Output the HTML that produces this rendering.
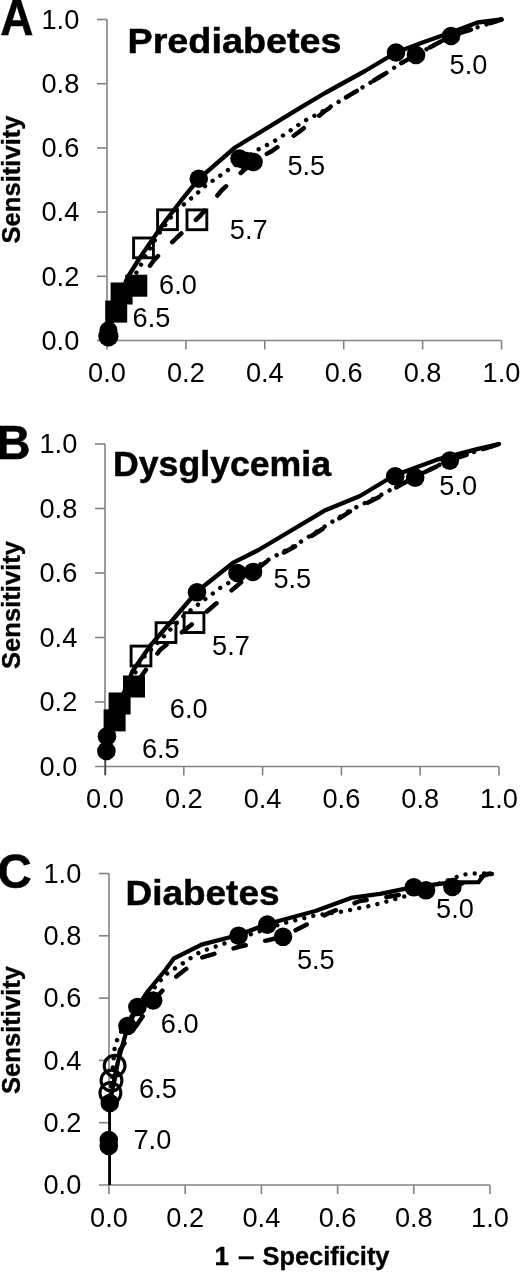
<!DOCTYPE html>
<html><head><meta charset="utf-8"><style>
html,body{margin:0;padding:0;background:#fff;}
svg{display:block;filter:grayscale(1);}
text{font-family:"Liberation Sans",sans-serif;fill:#000;}
.t{font-size:28.5px;}
.pl{font-size:47.5px;font-weight:bold;stroke:#000;stroke-width:0.5;}
.ti{font-size:35px;font-weight:bold;stroke:#000;stroke-width:0.5;}
.yl{font-size:26.5px;font-weight:bold;stroke:#000;stroke-width:0.35;}
.ln{fill:none;stroke:#000;stroke-width:4.3;stroke-linejoin:round;stroke-linecap:round;}
.dot{stroke-dasharray:0.01 9.3;stroke-width:4.4;}
.dash{stroke-dasharray:12.6 19.9;stroke-width:4.5;}
</style></head><body>
<svg width="520" height="1273" viewBox="0 0 520 1273">
<rect width="520" height="1273" fill="#fff"/>
<g stroke="#828282" stroke-width="1.6" fill="none"><path d="M107 19.5 V349.5"/><path d="M97 340.5 H501.5"/><path d="M185.9 340.5 v9"/><path d="M97 276.3 H107"/><path d="M264.8 340.5 v9"/><path d="M97 212.1 H107"/><path d="M343.7 340.5 v9"/><path d="M97 147.9 H107"/><path d="M422.6 340.5 v9"/><path d="M97 83.7 H107"/><path d="M501.5 340.5 v9"/><path d="M97 19.5 H107"/></g>
<text x="79.3" y="349.7" text-anchor="end" class="t" textLength="37.8" lengthAdjust="spacingAndGlyphs">0.0</text>
<text x="107.0" y="382.0" text-anchor="middle" class="t" textLength="37.8" lengthAdjust="spacingAndGlyphs">0.0</text>
<text x="79.3" y="285.5" text-anchor="end" class="t" textLength="37.8" lengthAdjust="spacingAndGlyphs">0.2</text>
<text x="185.9" y="382.0" text-anchor="middle" class="t" textLength="37.8" lengthAdjust="spacingAndGlyphs">0.2</text>
<text x="79.3" y="221.3" text-anchor="end" class="t" textLength="37.8" lengthAdjust="spacingAndGlyphs">0.4</text>
<text x="264.8" y="382.0" text-anchor="middle" class="t" textLength="37.8" lengthAdjust="spacingAndGlyphs">0.4</text>
<text x="79.3" y="157.1" text-anchor="end" class="t" textLength="37.8" lengthAdjust="spacingAndGlyphs">0.6</text>
<text x="343.7" y="382.0" text-anchor="middle" class="t" textLength="37.8" lengthAdjust="spacingAndGlyphs">0.6</text>
<text x="79.3" y="92.9" text-anchor="end" class="t" textLength="37.8" lengthAdjust="spacingAndGlyphs">0.8</text>
<text x="422.6" y="382.0" text-anchor="middle" class="t" textLength="37.8" lengthAdjust="spacingAndGlyphs">0.8</text>
<text x="79.3" y="28.7" text-anchor="end" class="t" textLength="37.8" lengthAdjust="spacingAndGlyphs">1.0</text>
<text x="501.5" y="382.0" text-anchor="middle" class="t" textLength="37.8" lengthAdjust="spacingAndGlyphs">1.0</text>
<text x="0.3" y="34.5" class="pl" style="font-size:50px" textLength="33.2" lengthAdjust="spacingAndGlyphs">A</text>
<text x="127.5" y="53.3" class="ti" textLength="214" lengthAdjust="spacingAndGlyphs">Prediabetes</text>
<text transform="translate(19.7,243.5) rotate(-90)" class="yl" textLength="128" lengthAdjust="spacingAndGlyphs">Sensitivity</text>
<polyline points="107.0,340.5 116.0,311.0 136.0,286.0 154.0,260.0 177.0,237.5 200.0,216.0 222.0,190.0 244.0,170.0 254.0,161.0 272.0,151.0 299.0,132.0 325.0,111.0 337.5,102.5 385.0,73.8 400.0,63.8 416.0,55.0 451.0,36.0 501.5,19.5" class="ln dash" stroke-dashoffset="10"/>
<polyline points="107.0,340.5 112.0,320.0 122.0,296.0 138.8,268.8 147.5,252.5 158.0,235.0 168.8,220.0 174.5,212.5 187.5,201.2 194.5,195.8 206.2,185.0 219.5,176.2 226.2,171.2 258.0,149.5 273.0,142.0 287.5,132.5 303.8,121.2 320.0,113.0 337.5,102.5 385.0,73.8 400.0,63.8 416.0,55.0 451.0,36.0 501.5,19.5" class="ln dot" stroke-dashoffset="0"/>
<polyline points="107.0,340.5 110.0,320.0 116.0,305.0 127.5,277.5 140.0,257.5 162.5,225.0 182.5,198.8 198.8,178.8 235.0,147.5 300.0,107.8 325.0,93.0 365.0,71.0 396.0,52.5 422.5,42.5 451.0,32.5 477.5,22.5 501.5,19.5" class="ln"/>
<circle cx="108.4" cy="330.3" r="9.0" fill="#000"/>
<circle cx="108.4" cy="336.3" r="10.1" fill="#000"/>
<rect x="105.2" y="300.6" width="22" height="22" fill="#000"/>
<rect x="110.6" y="282.5" width="22" height="22" fill="#000"/>
<rect x="125.30000000000001" y="274.7" width="22" height="22" fill="#000"/>
<rect x="133.6" y="238.0" width="19.8" height="19.8" fill="none" stroke="#000" stroke-width="2.9"/>
<rect x="157.6" y="209.85" width="19.8" height="19.8" fill="none" stroke="#000" stroke-width="2.9"/>
<rect x="187.0" y="209.9" width="19.8" height="19.8" fill="none" stroke="#000" stroke-width="2.9"/>
<circle cx="198.75" cy="178.75" r="9.3" fill="#000"/>
<circle cx="239.5" cy="158.5" r="9.3" fill="#000"/>
<circle cx="246" cy="161" r="9.3" fill="#000"/>
<circle cx="253.5" cy="162" r="9.3" fill="#000"/>
<circle cx="396" cy="52.5" r="9.3" fill="#000"/>
<circle cx="416" cy="55" r="9.3" fill="#000"/>
<circle cx="451" cy="36" r="9.3" fill="#000"/>
<text x="178" y="294.1" text-anchor="middle" class="t" textLength="37.8" lengthAdjust="spacingAndGlyphs">6.0</text>
<text x="151.5" y="327.2" text-anchor="middle" class="t" textLength="37.8" lengthAdjust="spacingAndGlyphs">6.5</text>
<text x="248.7" y="239.2" text-anchor="middle" class="t" textLength="37.8" lengthAdjust="spacingAndGlyphs">5.7</text>
<text x="306.3" y="175.0" text-anchor="middle" class="t" textLength="37.8" lengthAdjust="spacingAndGlyphs">5.5</text>
<text x="468.5" y="74.1" text-anchor="middle" class="t" textLength="37.8" lengthAdjust="spacingAndGlyphs">5.0</text>
<g stroke="#828282" stroke-width="1.6" fill="none"><path d="M105 444 V775.5"/><path d="M95 766.5 H499"/><path d="M183.8 766.5 v9"/><path d="M95 702.0 H105"/><path d="M262.6 766.5 v9"/><path d="M95 637.5 H105"/><path d="M341.4 766.5 v9"/><path d="M95 573.0 H105"/><path d="M420.2 766.5 v9"/><path d="M95 508.5 H105"/><path d="M499.0 766.5 v9"/><path d="M95 444.0 H105"/></g>
<text x="77.3" y="775.7" text-anchor="end" class="t" textLength="37.8" lengthAdjust="spacingAndGlyphs">0.0</text>
<text x="105.0" y="808.0" text-anchor="middle" class="t" textLength="37.8" lengthAdjust="spacingAndGlyphs">0.0</text>
<text x="77.3" y="711.2" text-anchor="end" class="t" textLength="37.8" lengthAdjust="spacingAndGlyphs">0.2</text>
<text x="183.8" y="808.0" text-anchor="middle" class="t" textLength="37.8" lengthAdjust="spacingAndGlyphs">0.2</text>
<text x="77.3" y="646.7" text-anchor="end" class="t" textLength="37.8" lengthAdjust="spacingAndGlyphs">0.4</text>
<text x="262.6" y="808.0" text-anchor="middle" class="t" textLength="37.8" lengthAdjust="spacingAndGlyphs">0.4</text>
<text x="77.3" y="582.2" text-anchor="end" class="t" textLength="37.8" lengthAdjust="spacingAndGlyphs">0.6</text>
<text x="341.4" y="808.0" text-anchor="middle" class="t" textLength="37.8" lengthAdjust="spacingAndGlyphs">0.6</text>
<text x="77.3" y="517.7" text-anchor="end" class="t" textLength="37.8" lengthAdjust="spacingAndGlyphs">0.8</text>
<text x="420.2" y="808.0" text-anchor="middle" class="t" textLength="37.8" lengthAdjust="spacingAndGlyphs">0.8</text>
<text x="77.3" y="453.2" text-anchor="end" class="t" textLength="37.8" lengthAdjust="spacingAndGlyphs">1.0</text>
<text x="499.0" y="808.0" text-anchor="middle" class="t" textLength="37.8" lengthAdjust="spacingAndGlyphs">1.0</text>
<text x="-3.8" y="458.8" class="pl">B</text>
<text x="113" y="476.3" class="ti" textLength="218" lengthAdjust="spacingAndGlyphs">Dysglycemia</text>
<text transform="translate(19.7,669) rotate(-90)" class="yl" textLength="128" lengthAdjust="spacingAndGlyphs">Sensitivity</text>
<path d="M105.4 760 V775" stroke="#444" stroke-width="1.6" fill="none"/>
<polyline points="105.5,750.0 108.0,735.0 120.0,703.0 134.0,686.5 160.0,650.0 194.0,622.6 253.0,572.0 266.0,562.0 295.0,546.5 322.5,529.0 350.0,511.5 380.0,496.5 414.8,477.0 449.2,460.5 499.0,444.0" class="ln dash" stroke-dashoffset="-14"/>
<polyline points="105.5,750.0 106.0,740.0 117.0,712.0 125.0,695.0 141.0,660.0 166.0,634.0 185.0,614.5 220.0,588.0 266.0,561.0 295.0,545.5 322.5,528.0 350.0,510.5 380.0,495.5 414.8,477.0 449.2,460.0 499.0,444.0" class="ln dot" stroke-dashoffset="0"/>
<polyline points="105.5,750.0 106.2,735.5 114.6,720.4 119.6,703.5 132.3,671.5 150.0,646.0 173.0,619.5 197.0,591.5 233.8,562.3 258.5,550.0 324.6,510.6 360.0,496.0 394.0,475.5 437.0,459.7 477.0,449.2 499.0,444.0" class="ln"/>
<circle cx="106.4" cy="751" r="9.3" fill="#000"/>
<circle cx="107" cy="736.3" r="9.3" fill="#000"/>
<rect x="103.6" y="709.4" width="22" height="22" fill="#000"/>
<rect x="108.6" y="692.5" width="22" height="22" fill="#000"/>
<rect x="123.0" y="675.5" width="22" height="22" fill="#000"/>
<rect x="131.1" y="646.1" width="19.8" height="19.8" fill="none" stroke="#000" stroke-width="2.9"/>
<rect x="156.1" y="622.7" width="19.8" height="19.8" fill="none" stroke="#000" stroke-width="2.9"/>
<rect x="184.1" y="612.7" width="19.8" height="19.8" fill="none" stroke="#000" stroke-width="2.9"/>
<circle cx="197" cy="592.3" r="9.3" fill="#000"/>
<circle cx="237.5" cy="573" r="9.3" fill="#000"/>
<circle cx="253" cy="572" r="9.3" fill="#000"/>
<circle cx="395.2" cy="476.3" r="9.3" fill="#000"/>
<circle cx="415.2" cy="477.6" r="9.3" fill="#000"/>
<circle cx="449.8" cy="460.6" r="9.3" fill="#000"/>
<text x="188.75" y="718.0" text-anchor="middle" class="t" textLength="37.8" lengthAdjust="spacingAndGlyphs">6.0</text>
<text x="160.8" y="757.5" text-anchor="middle" class="t" textLength="37.8" lengthAdjust="spacingAndGlyphs">6.5</text>
<text x="231" y="654.7" text-anchor="middle" class="t" textLength="37.8" lengthAdjust="spacingAndGlyphs">5.7</text>
<text x="292.3" y="587.9" text-anchor="middle" class="t" textLength="37.8" lengthAdjust="spacingAndGlyphs">5.5</text>
<text x="458.2" y="494.5" text-anchor="middle" class="t" textLength="37.8" lengthAdjust="spacingAndGlyphs">5.0</text>
<g stroke="#828282" stroke-width="1.6" fill="none"><path d="M109 873.5 V1194"/><path d="M99 1185 H490"/><path d="M185.2 1185 v9"/><path d="M99 1122.7 H109"/><path d="M261.4 1185 v9"/><path d="M99 1060.4 H109"/><path d="M337.6 1185 v9"/><path d="M99 998.1 H109"/><path d="M413.8 1185 v9"/><path d="M99 935.8 H109"/><path d="M490.0 1185 v9"/><path d="M99 873.5 H109"/></g>
<text x="81.3" y="1194.2" text-anchor="end" class="t" textLength="37.8" lengthAdjust="spacingAndGlyphs">0.0</text>
<text x="109.0" y="1226.5" text-anchor="middle" class="t" textLength="37.8" lengthAdjust="spacingAndGlyphs">0.0</text>
<text x="81.3" y="1131.9" text-anchor="end" class="t" textLength="37.8" lengthAdjust="spacingAndGlyphs">0.2</text>
<text x="185.2" y="1226.5" text-anchor="middle" class="t" textLength="37.8" lengthAdjust="spacingAndGlyphs">0.2</text>
<text x="81.3" y="1069.6" text-anchor="end" class="t" textLength="37.8" lengthAdjust="spacingAndGlyphs">0.4</text>
<text x="261.4" y="1226.5" text-anchor="middle" class="t" textLength="37.8" lengthAdjust="spacingAndGlyphs">0.4</text>
<text x="81.3" y="1007.3" text-anchor="end" class="t" textLength="37.8" lengthAdjust="spacingAndGlyphs">0.6</text>
<text x="337.6" y="1226.5" text-anchor="middle" class="t" textLength="37.8" lengthAdjust="spacingAndGlyphs">0.6</text>
<text x="81.3" y="945.0" text-anchor="end" class="t" textLength="37.8" lengthAdjust="spacingAndGlyphs">0.8</text>
<text x="413.8" y="1226.5" text-anchor="middle" class="t" textLength="37.8" lengthAdjust="spacingAndGlyphs">0.8</text>
<text x="81.3" y="882.7" text-anchor="end" class="t" textLength="37.8" lengthAdjust="spacingAndGlyphs">1.0</text>
<text x="490.0" y="1226.5" text-anchor="middle" class="t" textLength="37.8" lengthAdjust="spacingAndGlyphs">1.0</text>
<text x="-2.6" y="887.6" class="pl">C</text>
<text x="125.5" y="904.5" class="ti" textLength="154" lengthAdjust="spacingAndGlyphs">Diabetes</text>
<text transform="translate(19.7,1094) rotate(-90)" class="yl" textLength="128" lengthAdjust="spacingAndGlyphs">Sensitivity</text>
<text x="214.6" y="1265" class="yl" style="font-size:26px">1</text>
<text x="238" y="1265" class="yl" style="font-size:26px" textLength="16.5" lengthAdjust="spacingAndGlyphs">–</text>
<text x="262.5" y="1265" class="yl" style="font-size:26px" textLength="127" lengthAdjust="spacingAndGlyphs">Specificity</text>
<path d="M109.6 1185 V1104" stroke="#000" stroke-width="2.8" fill="none"/>
<polyline points="109.5,1104.6 120.0,1050.0 153.0,1001.0 172.0,980.0 200.0,958.0 240.0,946.5 283.0,936.8 300.0,928.0 330.0,912.5 360.0,901.0 425.0,891.0 452.0,887.0 490.0,873.5" class="ln dash" stroke-dashoffset="14"/>
<polyline points="109.5,1104.6 113.5,1060.0 115.0,1044.6 121.0,1032.0 136.5,1009.0 165.0,975.0 200.0,952.0 240.0,938.0 281.5,923.8 312.3,916.0 343.0,911.5 374.0,905.0 406.0,896.0 463.0,874.6 474.0,873.5 490.0,873.5" class="ln dot" stroke-dashoffset="0"/>
<polyline points="109.5,1110.0 109.5,1104.6 118.0,1061.5 127.3,1028.0 137.5,1007.0 148.0,991.0 165.4,970.0 173.8,958.5 201.5,944.6 238.6,935.0 267.5,924.0 315.4,911.0 352.3,897.6 380.0,893.8 412.0,887.3 452.0,882.4 478.5,882.2 484.6,874.0 492.0,874.0" class="ln"/>
<circle cx="108.8" cy="1140" r="9.3" fill="#000"/>
<circle cx="108.8" cy="1146" r="9.3" fill="#000"/>
<circle cx="109.8" cy="1103" r="9.3" fill="#000"/>
<circle cx="110.4" cy="1093" r="10.4" fill="none" stroke="#000" stroke-width="3.1"/>
<circle cx="111.5" cy="1080.5" r="10.4" fill="none" stroke="#000" stroke-width="3.1"/>
<circle cx="114.6" cy="1065.8" r="10.4" fill="none" stroke="#000" stroke-width="3.1"/>
<circle cx="127.5" cy="1026" r="9.3" fill="#000"/>
<circle cx="137.4" cy="1007" r="9.3" fill="#000"/>
<circle cx="153.2" cy="1000.5" r="9.3" fill="#000"/>
<circle cx="238.6" cy="935.7" r="9.3" fill="#000"/>
<circle cx="267.3" cy="924.6" r="9.3" fill="#000"/>
<circle cx="283" cy="936.8" r="9.3" fill="#000"/>
<circle cx="413.8" cy="887.3" r="9.3" fill="#000"/>
<circle cx="426" cy="890.3" r="9.3" fill="#000"/>
<circle cx="452.4" cy="887" r="9.3" fill="#000"/>
<text x="179.7" y="1032.5" text-anchor="middle" class="t" textLength="37.8" lengthAdjust="spacingAndGlyphs">6.0</text>
<text x="158" y="1097.5" text-anchor="middle" class="t" textLength="37.8" lengthAdjust="spacingAndGlyphs">6.5</text>
<text x="152.4" y="1149.0" text-anchor="middle" class="t" textLength="37.8" lengthAdjust="spacingAndGlyphs">7.0</text>
<text x="315.8" y="969.1" text-anchor="middle" class="t" textLength="37.8" lengthAdjust="spacingAndGlyphs">5.5</text>
<text x="455" y="917.5" text-anchor="middle" class="t" textLength="37.8" lengthAdjust="spacingAndGlyphs">5.0</text>
</svg>
</body></html>
